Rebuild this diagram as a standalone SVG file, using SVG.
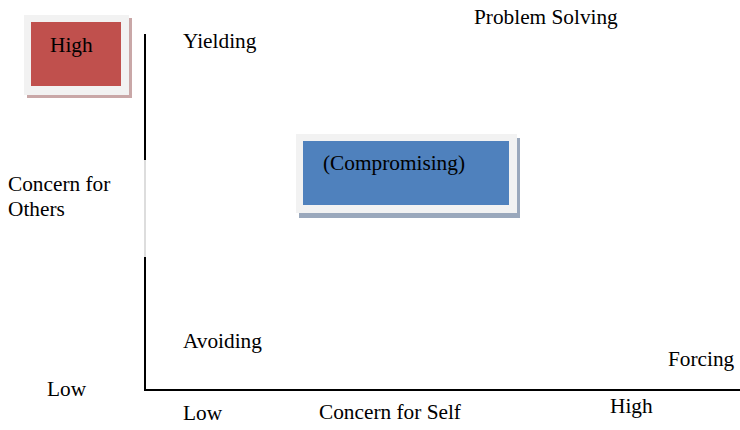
<svg xmlns="http://www.w3.org/2000/svg" width="740" height="430" viewBox="0 0 740 430">
<style>
.t{font-family:'Liberation Serif','Times New Roman',serif;font-size:21.3px;fill:#000}
.frame{fill:#f2f2f2}
</style>
<rect width="740" height="430" fill="#fff"/>
<g id="axes">
<line x1="145" y1="34" x2="145" y2="160" stroke="#000" stroke-width="2"/>
<line x1="145" y1="160" x2="145" y2="257" stroke="#bbb" stroke-width="1"/>
<line x1="145" y1="257" x2="145" y2="391" stroke="#000" stroke-width="2"/>
<line x1="144" y1="390" x2="740" y2="390" stroke="#000" stroke-width="2"/>
</g>
<g id="high-box">
<rect x="27" y="18" width="105" height="80" fill="#c9a7a7"/>
<rect class="frame" x="24" y="15" width="105" height="80"/>
<rect x="31" y="22" width="90" height="64" fill="#c0504d"/>
<text class="t" x="50" y="52">High</text>
</g>
<g id="compromising">
<rect x="299" y="138" width="221" height="80" fill="#9aa8bc"/>
<rect class="frame" x="296" y="134" width="221" height="79"/>
<rect x="303" y="141" width="206" height="64" fill="#4f81bd"/>
<text class="t" x="323" y="170">(Compromising)</text>
</g>
<g id="labels">
<text class="t" x="183" y="48">Yielding</text>
<text class="t" x="474" y="24">Problem Solving</text>
<text class="t" x="8" y="191">Concern for</text>
<text class="t" x="8" y="216">Others</text>
<text class="t" x="183" y="348">Avoiding</text>
<text class="t" x="668" y="366">Forcing</text>
<text class="t" x="47" y="396">Low</text>
<text class="t" x="183" y="420">Low</text>
<text class="t" x="319" y="419">Concern for Self</text>
<text class="t" x="610" y="413">High</text>
</g>
</svg>
